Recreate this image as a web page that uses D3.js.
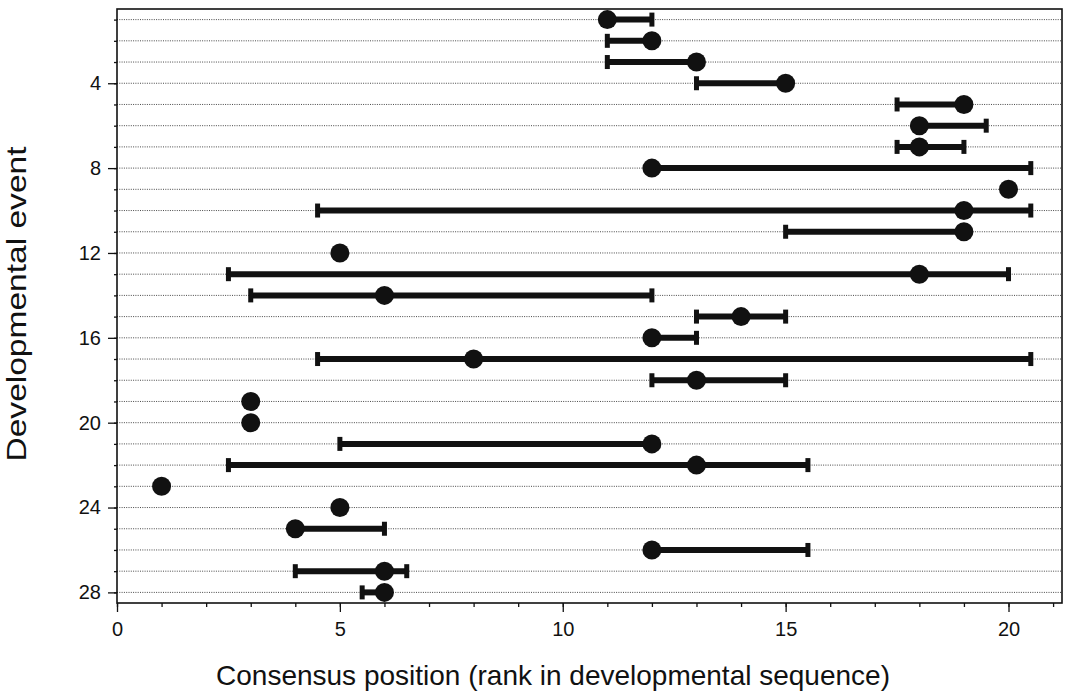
<!DOCTYPE html>
<html>
<head>
  <meta charset="utf-8">
  <script src="https://d3js.org/d3.v7.min.js"></script>
  <style>
    body { margin: 0; background: #fff; }
    svg text { font-family: "Liberation Sans", Arial, sans-serif; fill: #111; }
    .grid line { stroke: #333; stroke-width: 0.9; stroke-dasharray: 1,1.3; }
    .axis path, .axis line { stroke: #111; stroke-width: 1.3; }
  </style>
</head>
<body>
  <svg width="1066" height="694"></svg>
  <script>
    // developmental events 1..28, top to bottom
    var events = d3.range(1, 29);
    var consensus = [11, 12, 13, 15, 19, 18, 18, 12, 20, 19, 19, 5, 18, 6, 14, 12, 8, 13, 3, 3, 12, 13, 1, 5, 4, 12, 6, 6];
    var rangeLow  = [11, 11, 11, 13, 17.5, 18, 17.5, 12, 20, 4.5, 15, 5, 2.5, 3, 13, 12, 4.5, 12, 3, 3, 5, 2.5, 1, 5, 4, 12, 4, 5.5];
    var rangeHigh = [12, 12, 13, 15, 19, 19.5, 19, 20.5, 20, 20.5, 19, 5, 20, 12, 15, 13, 20.5, 15, 3, 3, 12, 15.5, 1, 5, 6, 15.5, 6.5, 6];
    var xMajor = [0, 5, 10, 15, 20];
    var yMajor = [4, 8, 12, 16, 20, 24, 28];

    var data = events.map(function (e, i) {
      return { event: e, pos: consensus[i], lo: rangeLow[i], hi: rangeHigh[i] };
    });

    var plotL = 117, plotR = 1062, plotT = 9, plotB = 603;
    var x = d3.scaleLinear().domain([0, 21.2]).range([plotL, plotR]);
    var y = d3.scaleLinear().domain([0.5, 28.5]).range([plotT, plotB]);

    var svg = d3.select('svg');

    // dotted row lines
    svg.append('g').attr('class', 'grid')
      .selectAll('line').data(events).enter().append('line')
      .attr('x1', plotL).attr('x2', plotR)
      .attr('y1', function (d) { return y(d); })
      .attr('y2', function (d) { return y(d); });

    // frame
    svg.append('rect')
      .attr('x', plotL).attr('y', plotT)
      .attr('width', plotR - plotL).attr('height', plotB - plotT)
      .attr('fill', 'none').attr('stroke', '#111').attr('stroke-width', 1.6);

    // x axis: minor + major ticks
    svg.append('g').attr('class', 'axis')
      .attr('transform', 'translate(0,' + plotB + ')')
      .call(d3.axisBottom(x).tickValues(d3.range(0, 22)).tickSize(4).tickFormat(''))
      .call(function (g) { g.select('.domain').remove(); });
    svg.append('g').attr('class', 'axis')
      .attr('transform', 'translate(0,' + plotB + ')')
      .call(d3.axisBottom(x).tickValues(xMajor).tickSize(9).tickPadding(10).tickFormat(d3.format('d')))
      .call(function (g) {
        g.select('.domain').remove();
        g.selectAll('text').style('font-size', '20px');
      });

    // y axis: minor + major ticks
    svg.append('g').attr('class', 'axis')
      .attr('transform', 'translate(' + plotL + ',0)')
      .call(d3.axisLeft(y).tickValues(events).tickSize(3).tickFormat(''))
      .call(function (g) { g.select('.domain').remove(); });
    svg.append('g').attr('class', 'axis')
      .attr('transform', 'translate(' + plotL + ',0)')
      .call(d3.axisLeft(y).tickValues(yMajor).tickSize(9).tickPadding(7).tickFormat(d3.format('d')))
      .call(function (g) {
        g.select('.domain').remove();
        g.selectAll('text').style('font-size', '20px');
      });

    // range bars
    var marks = svg.append('g');
    marks.selectAll('line.bar').data(data.filter(function (d) { return d.hi > d.lo; }))
      .enter().append('line').attr('class', 'bar')
      .attr('x1', function (d) { return x(d.lo); })
      .attr('x2', function (d) { return x(d.hi); })
      .attr('y1', function (d) { return y(d.event); })
      .attr('y2', function (d) { return y(d.event); })
      .attr('stroke', '#111').attr('stroke-width', 6);

    var caps = [];
    data.forEach(function (d) {
      if (d.lo < d.pos) caps.push({ event: d.event, v: d.lo });
      if (d.hi > d.pos) caps.push({ event: d.event, v: d.hi });
    });
    marks.selectAll('rect.cap').data(caps).enter().append('rect').attr('class', 'cap')
      .attr('x', function (d) { return x(d.v) - 2.5; })
      .attr('y', function (d) { return y(d.event) - 7; })
      .attr('width', 5).attr('height', 14)
      .attr('fill', '#111');

    marks.selectAll('circle').data(data).enter().append('circle')
      .attr('cx', function (d) { return x(d.pos); })
      .attr('cy', function (d) { return y(d.event); })
      .attr('r', 9.5)
      .attr('fill', '#111');

    // axis titles
    svg.append('text')
      .attr('x', 553).attr('y', 685)
      .attr('text-anchor', 'middle')
      .style('font-size', '28px')
      .text('Consensus position (rank in developmental sequence)');
    svg.append('text')
      .attr('transform', 'translate(26,304) rotate(-90)')
      .attr('text-anchor', 'middle')
      .attr('textLength', 315).attr('lengthAdjust', 'spacingAndGlyphs')
      .style('font-size', '28px')
      .text('Developmental event');
  </script>
</body>
</html>
